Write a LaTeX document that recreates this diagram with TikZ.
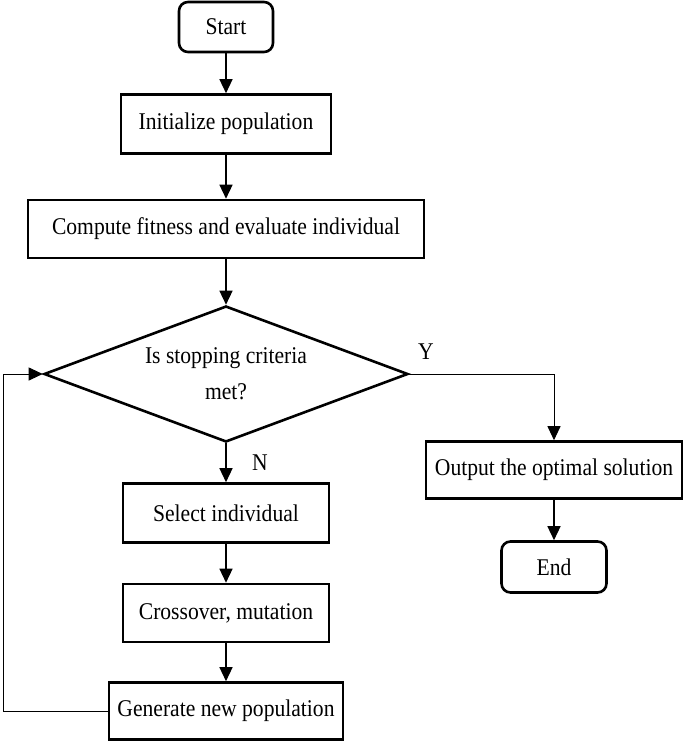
\documentclass[tikz,border=0pt]{standalone}
\usepackage{fontspec}
\setmainfont{Liberation Serif}[FakeStretch=0.9]
\usetikzlibrary{arrows.meta,shapes.geometric}
\tikzset{
  box/.style={draw, line width=2.6pt, rectangle, inner sep=0pt, font=\fontsize{24}{28}\selectfont},
  term/.style={box, rounded corners=9pt},
  cond/.style={draw, line width=2.6pt, diamond, shape aspect=2.68, inner sep=0pt, align=center, font=\fontsize{24}{36}\selectfont},
  arr/.style={line width=1.4pt, -{Triangle[length=14pt,width=13pt]}},
  thinarr/.style={line width=1pt, -{Triangle[length=14pt,width=13pt]}},
  lbl/.style={font=\fontsize{24}{28}\selectfont}
}
\begin{document}
\begin{tikzpicture}[x=1pt,y=-1pt]
			%%%%% START %%%%%
			\useasboundingbox (0,0) rectangle (685,741);
			
			\node[term, minimum width=94pt, minimum height=50pt] (start) at (226, 27) {Start};
			\node[box, minimum width=210pt, minimum height=59pt] (init) at (226, 124) {Initialize population};
			\node[box, minimum width=396pt, minimum height=58pt] (fit) at (226, 229) {Compute fitness and evaluate individual};
			\node[cond, minimum width=364pt, minimum height=136pt] (stop) at (226, 374) {Is stopping criteria\\met?};
			
			\node[box, minimum width=206pt, minimum height=59pt] (sel) at (226, 513) {Select individual};
			\node[box, minimum width=206pt, minimum height=58pt] (cross) at (226, 613) {Crossover, mutation};
			\node[box, minimum width=234pt, minimum height=57pt] (gen) at (226, 711) {Generate new population};
			
			\node[box, minimum width=256pt, minimum height=57pt] (out) at (554, 470) {Output the optimal solution};
			\node[term, minimum width=105pt, minimum height=51pt] (end) at (554, 567) {End};
			
			\node[lbl] (ylbl) at (426, 352) {Y};
			\node[lbl] (nlbl) at (260, 463) {N};
			\coordinate (lp) at (3, 711);
			
			\draw[arr] (start) -- (init);
			\draw[arr] (init) -- (fit);
			\draw[arr] (fit) -- (stop);
			\draw[arr] (stop) -- (sel);
			\draw[arr] (sel) -- (cross);
			\draw[arr] (cross) -- (gen);
			\draw[thinarr] (stop.east) -| (out.north);
			\draw[arr] (out) -- (end);
			
			% back to the test
			\draw[thinarr] (gen.west) -- (lp) |- (stop.west);
			
			%%%%% END %%%%%
\end{tikzpicture}
\end{document}
